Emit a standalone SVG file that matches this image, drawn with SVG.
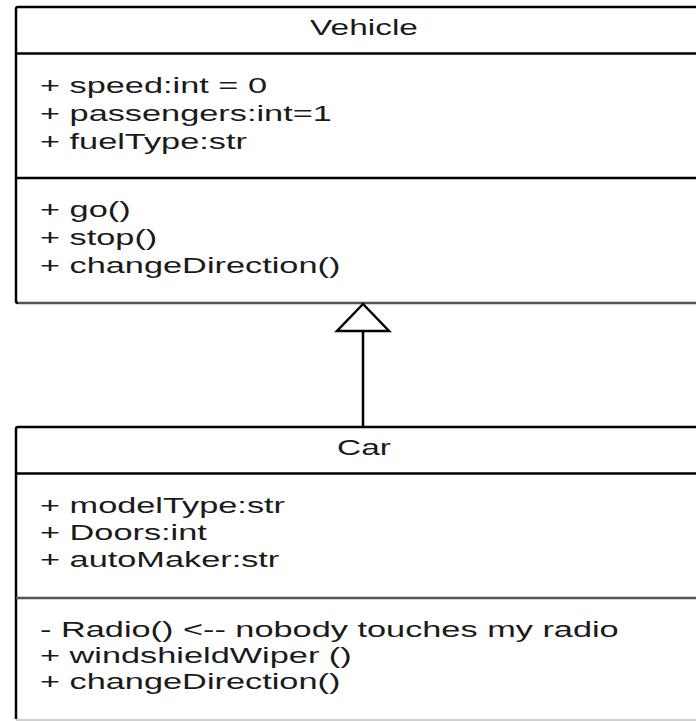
<svg xmlns="http://www.w3.org/2000/svg" width="696" height="721" viewBox="0 0 696 721">
<style>
.bg{fill:#ffffff}
.ln{stroke:#000;stroke-width:2.5;fill:none}
.lg{stroke:#555;stroke-width:2.5;fill:none}
.ll{stroke:#cfcfcf;stroke-width:2;fill:none}
.t{font-family:"Liberation Sans",Arial,sans-serif;font-size:22px;fill:#1a1a1a}
.c{text-anchor:middle}
</style>
<rect class="bg" x="0" y="0" width="696" height="721"/>
<g id="Vehicle">
<path class="ln" d="M696 7 H18 Q16 7 16 9 V301 Q16 303 18 303"/>
<path class="lg" d="M18 303 H696"/>
<path class="ln" d="M16 53.5 H696"/>
<path class="ln" d="M16 178 H696"/>
<text class="t c" transform="matrix(1.52 0 0 1 364 35)">Vehicle</text>
<text class="t" transform="matrix(1.56 0 0 1 40 93)">+ speed:int = 0</text>
<text class="t" transform="matrix(1.56 0 0 1 40 121)">+ passengers:int=1</text>
<text class="t" transform="matrix(1.56 0 0 1 40 149)">+ fuelType:str</text>
<text class="t" transform="matrix(1.56 0 0 1 40 217)">+ go()</text>
<text class="t" transform="matrix(1.56 0 0 1 40 245)">+ stop()</text>
<text class="t" transform="matrix(1.56 0 0 1 40 273)">+ changeDirection()</text>
</g>
<g id="Car">
<path class="ln" d="M696 427 H18 Q16 427 16 429 V719"/>
<path class="ll" d="M16 720 H696"/>
<path class="ln" d="M16 473.5 H696"/>
<path class="lg" d="M16 598 H696"/>
<text class="t c" transform="matrix(1.52 0 0 1 364 455)">Car</text>
<text class="t" transform="matrix(1.56 0 0 1 40 513)">+ modelType:str</text>
<text class="t" transform="matrix(1.56 0 0 1 40 540)">+ Doors:int</text>
<text class="t" transform="matrix(1.56 0 0 1 40 567)">+ autoMaker:str</text>
<text class="t" transform="matrix(1.56 0 0 1 40 637)">- Radio() &lt;-- nobody touches my radio</text>
<text class="t" transform="matrix(1.56 0 0 1 40 663)">+ windshieldWiper ()</text>
<text class="t" transform="matrix(1.56 0 0 1 40 689)">+ changeDirection()</text>
</g>
<g id="connectors">
<line class="ln" x1="363" y1="331" x2="363" y2="427"/>
<polygon points="363,304 337,331 389,331" fill="#fff" stroke="#000" stroke-width="2.5" stroke-linejoin="miter"/>
</g>
</svg>
